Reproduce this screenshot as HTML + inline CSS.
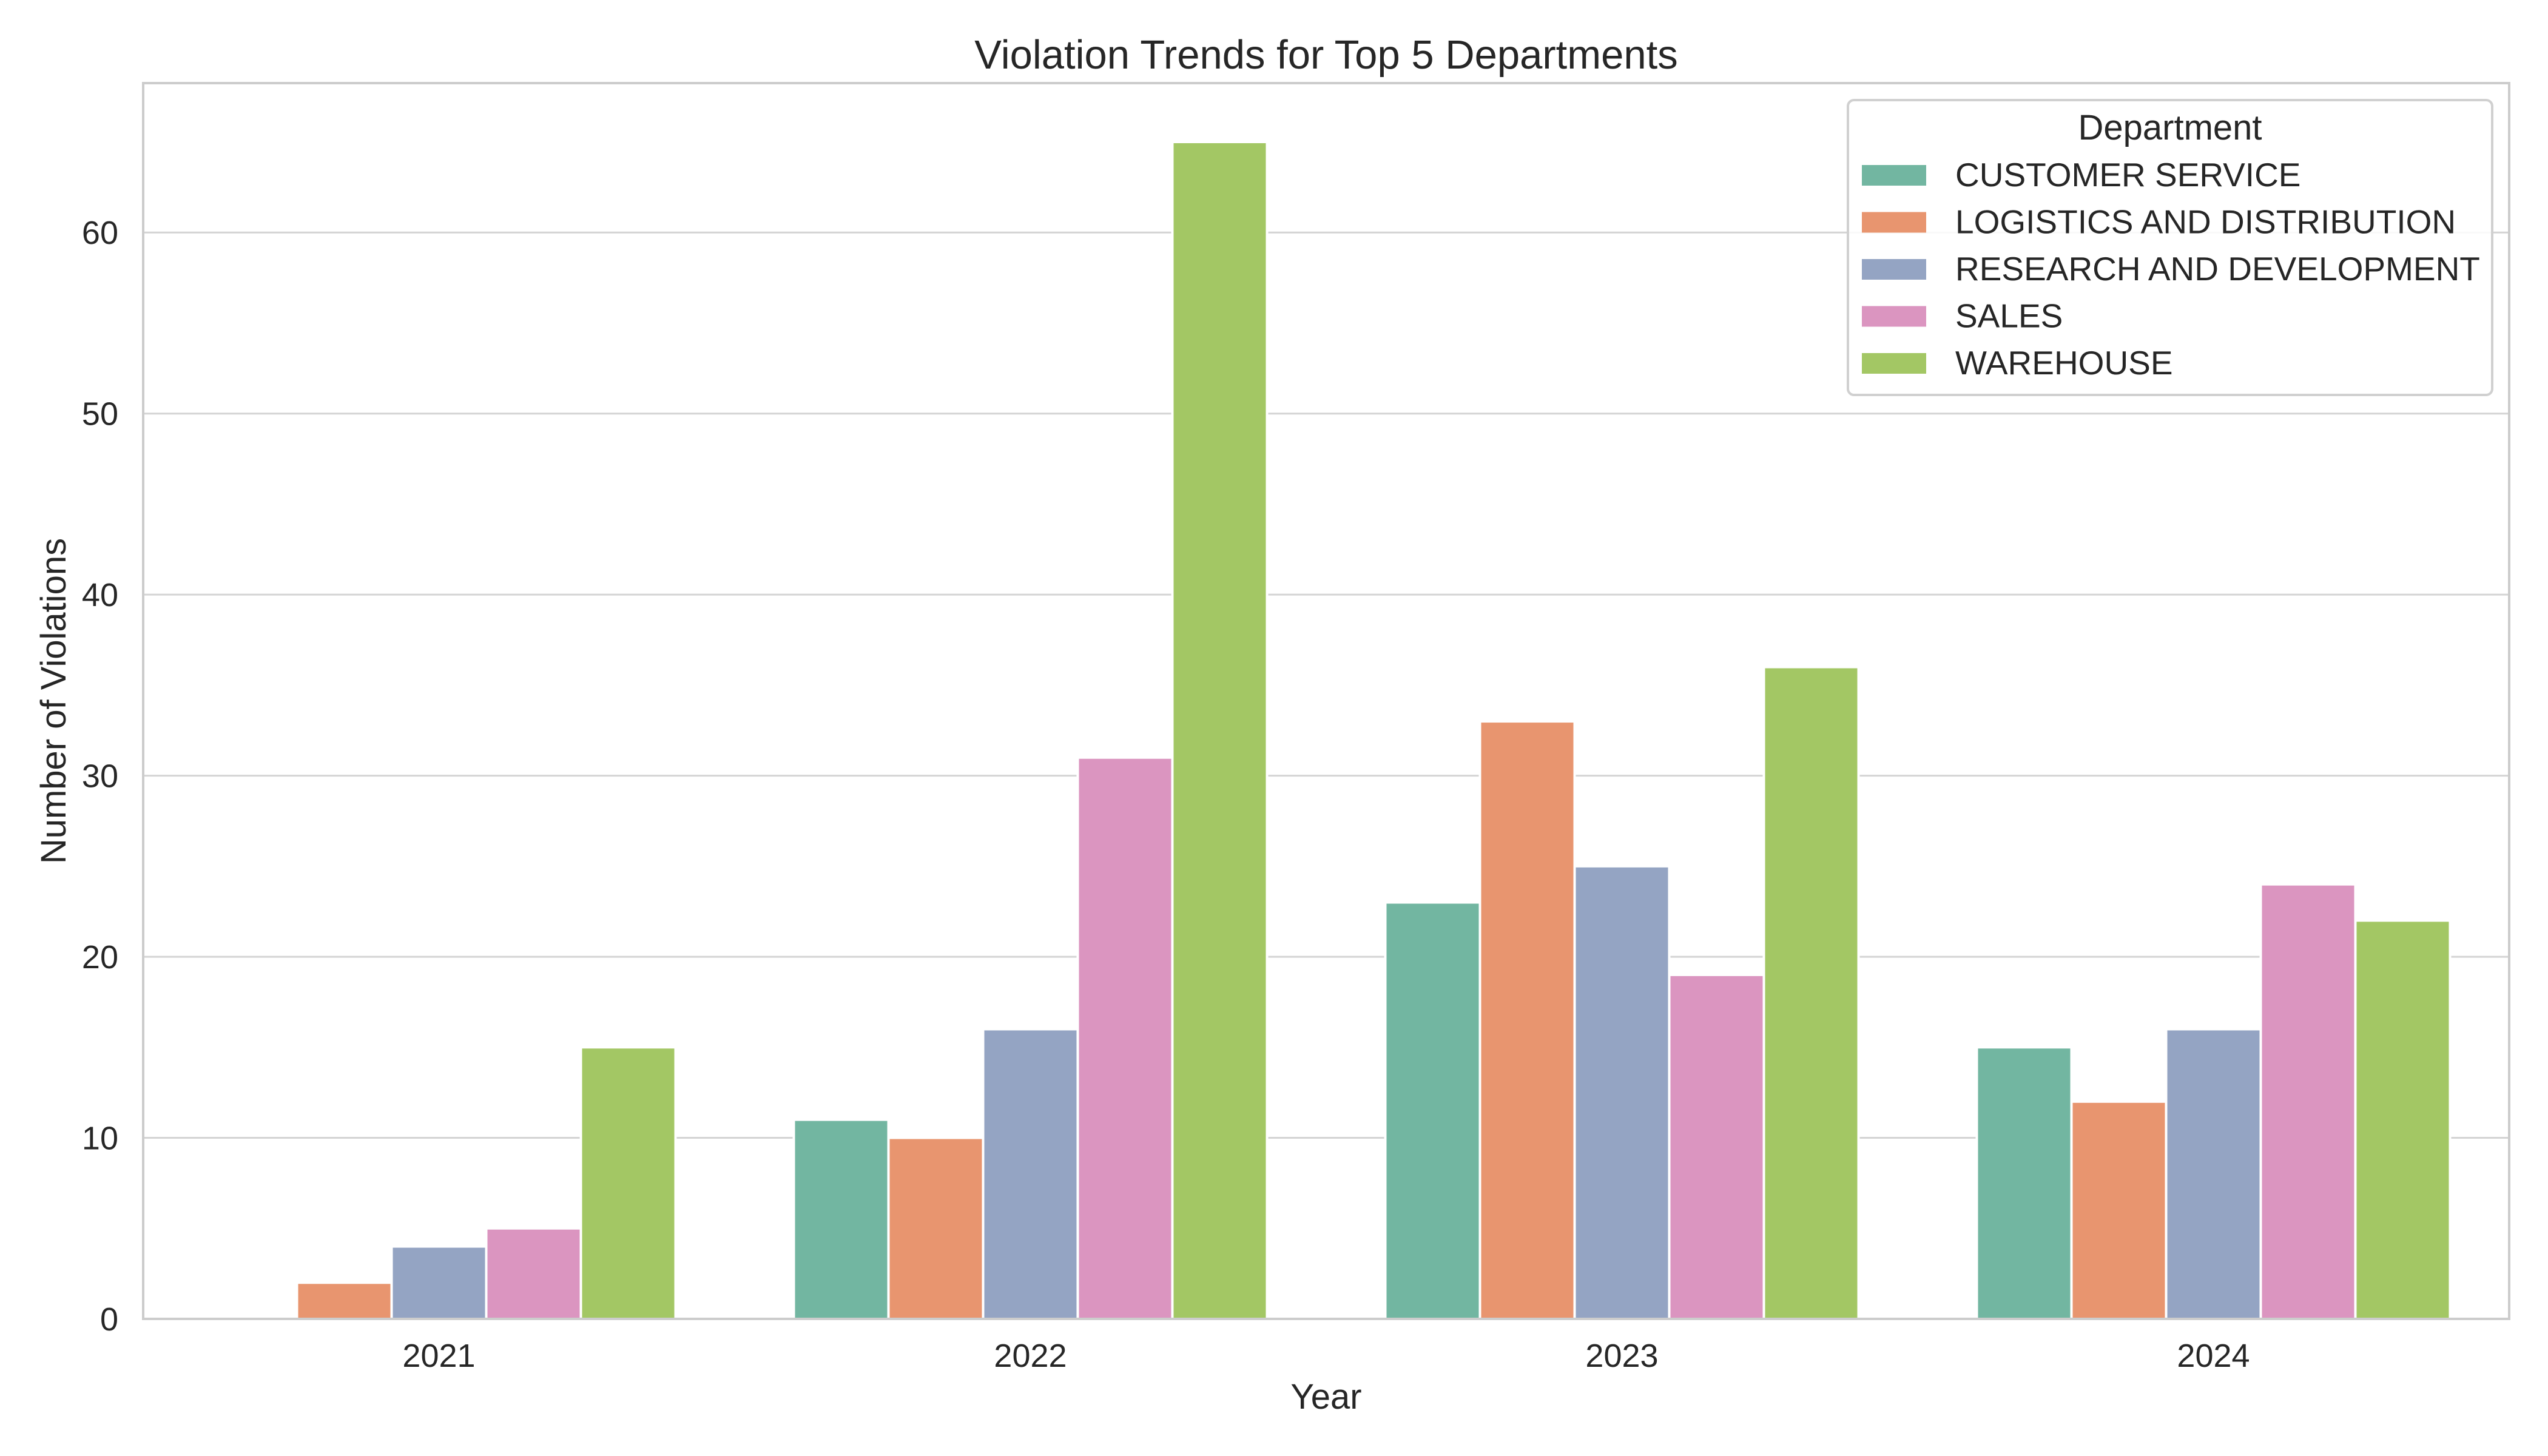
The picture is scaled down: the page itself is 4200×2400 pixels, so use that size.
<!DOCTYPE html>
<html><head><meta charset="utf-8"><style>
html,body{margin:0;padding:0;background:#fff}
svg{display:block;font-family:"Liberation Sans",Arial,sans-serif}
</style></head><body>
<svg id="chart" width="4200" height="2400" viewBox="0 0 4200 2400" xmlns="http://www.w3.org/2000/svg">
<rect width="4200" height="2400" fill="#fff"/>
<g id="grid"></g><g id="bars"></g><g id="axes"></g><g id="legend"></g>
</svg>
<script>
const years = ["2021","2022","2023","2024"];
const departments = ["CUSTOMER SERVICE","LOGISTICS AND DISTRIBUTION","RESEARCH AND DEVELOPMENT","SALES","WAREHOUSE"];
const customerService = [0,11,23,15];
const logistics = [2,10,33,12];
const research = [4,16,25,16];
const sales = [5,31,19,24];
const warehouse = [15,65,36,22];
const yTicks = [0,10,20,30,40,50,60];
const colors = ["#72b6a1","#e8956f","#94a4c3","#db95c0","#a3c764"];
const series = [customerService, logistics, research, sales, warehouse];

const NS="http://www.w3.org/2000/svg";
const L=236,R=4136,T=137,B=2174,yMax=68.25;
function yS(v){return B-(v/yMax)*(B-T);}
const band=(R-L)/years.length;
function xC(i){return L+band*(i+0.5);}
const barW=band*0.8/departments.length;
function mk(tag,attrs,parent,txt){const e=document.createElementNS(NS,tag);for(const k in attrs)e.setAttribute(k,attrs[k]);if(txt!==undefined)e.textContent=txt;parent.appendChild(e);return e;}
const grid=document.getElementById('grid'),bars=document.getElementById('bars'),axes=document.getElementById('axes'),leg=document.getElementById('legend');

yTicks.forEach(t=>{
  const g=mk('line',{x1:L,x2:R,y1:yS(t),y2:yS(t),stroke:'#d4d4d4','stroke-width':3},grid);
  
  
  const tl=mk('text',{x:195,y:yS(t)+19,'text-anchor':'end','font-size':54,fill:'#262626'},axes,String(t));
  
  
});
series.forEach((vals,s)=>{
  vals.forEach((v,i)=>{
    const x=xC(i)+(s-2)*barW-barW/2;
    const r=mk('rect',{x:x,y:yS(v),width:barW,height:B-yS(v),fill:colors[s],stroke:'#fff','stroke-width':4},bars);
    
    
  });
});
years.forEach((y,i)=>{
  const t=mk('text',{x:xC(i),y:2253,'text-anchor':'middle','font-size':54,fill:'#262626'},axes,y);
  
  
});
const frame=mk('rect',{x:L,y:T,width:R-L,height:B-T,fill:'none',stroke:'#cccccc','stroke-width':4},axes);


const title=mk('text',{x:(L+R)/2,y:113,'text-anchor':'middle','font-size':67,fill:'#262626'},axes,'Violation Trends for Top 5 Departments');


const xl=mk('text',{x:(L+R)/2,y:2322,'text-anchor':'middle','font-size':58,fill:'#262626'},axes,'Year');


const yl=mk('text',{x:0,y:0,'text-anchor':'middle','font-size':58,fill:'#262626',transform:'translate(108,'+((T+B)/2)+') rotate(-90)'},axes,'Number of Violations');



const box=mk('rect',{x:3046,y:165,width:1062,height:486,rx:10,fill:'#fff','fill-opacity':0.85,stroke:'#d0d0d0','stroke-width':4},leg);


const lt=mk('text',{x:3577,y:230,'text-anchor':'middle','font-size':58,fill:'#262626'},leg,'Department');


departments.forEach((d,s)=>{
  const by=307+s*77.5;
  const p=mk('rect',{x:3069,y:by-35,width:106,height:34,fill:colors[s]},leg);
  
  
  const t=mk('text',{x:3223,y:by,'font-size':55,fill:'#262626'},leg,d);
  
  
});
</script>
</body></html>
